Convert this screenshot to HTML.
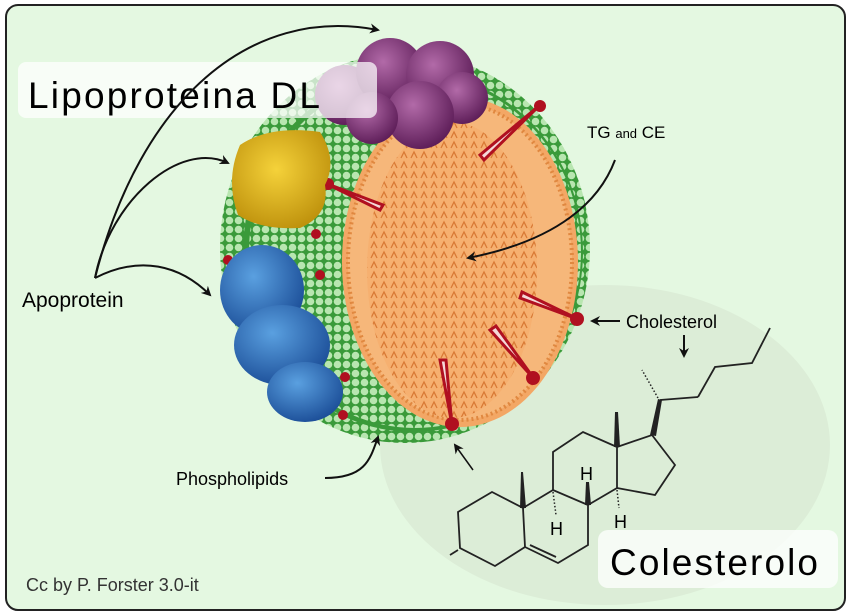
<!DOCTYPE html>
<html><head><meta charset="utf-8"><style>
html,body{margin:0;padding:0;background:#fff;}
svg{display:block;}
text{font-family:"Liberation Sans",sans-serif;}
</style></head><body>
<svg width="850" height="615" viewBox="0 0 850 615" xmlns="http://www.w3.org/2000/svg">
<defs>
<marker id="ah" markerWidth="10" markerHeight="10" refX="8" refY="5" orient="auto" markerUnits="userSpaceOnUse">
<path d="M0,0 L10,5 L0,10 L3,5 z" fill="#111"/></marker>
<radialGradient id="pur" cx="40%" cy="35%" r="70%"><stop offset="0" stop-color="#b26aa8"/><stop offset="1" stop-color="#5a1a55"/></radialGradient>
<radialGradient id="yel" cx="45%" cy="40%" r="70%"><stop offset="0" stop-color="#f5d23a"/><stop offset="1" stop-color="#b98b08"/></radialGradient>
<radialGradient id="blu" cx="40%" cy="35%" r="70%"><stop offset="0" stop-color="#5aa0e0"/><stop offset="1" stop-color="#1a4c96"/></radialGradient>
<pattern id="orp" width="10" height="10" patternUnits="userSpaceOnUse"><rect width="10" height="10" fill="#f6b070"/><path d="M1,8 L4,2 L7,8" stroke="#d97a35" stroke-width="1.3" fill="none"/></pattern>
<pattern id="grn" width="9" height="9" patternUnits="userSpaceOnUse"><rect width="9" height="9" fill="#3a9a3a"/><circle cx="4.5" cy="4.5" r="3.8" fill="#b8e6b0"/></pattern>
</defs>
<rect x="6" y="5" width="839" height="605" rx="12" fill="#e4f8e1" stroke="#222" stroke-width="2"/>
<ellipse cx="605" cy="445" rx="225" ry="160" fill="#dcedd7"/>
<!-- particle -->
<ellipse cx="405" cy="248" rx="185" ry="195" fill="url(#grn)"/>
<ellipse cx="413" cy="252" rx="170" ry="180" fill="#3a9a3a"/>
<ellipse cx="415" cy="252" rx="166" ry="176" fill="url(#grn)"/>
<ellipse cx="460" cy="262" rx="118" ry="165" fill="#f3a765"/>
<ellipse cx="460" cy="262" rx="112" ry="158" fill="#f6b77a" stroke="#e08840" stroke-width="4" stroke-dasharray="2 3"/>
<ellipse cx="452" cy="270" rx="85" ry="148" fill="url(#orp)"/>
<!-- cholesterol tears -->
<g fill="#f4d8d8" stroke="#b01020" stroke-width="3">
<path d="M540,105 L484,160 L480,155 z"/><path d="M580,320 L520,298 L522,292 z"/><path d="M535,380 L490,330 L496,326 z"/>
<path d="M452,425 L440,360 L446,360 z"/><path d="M325,183 L383,205 L380,210 z"/></g>
<g fill="#b01020"><circle cx="540" cy="106" r="6"/><circle cx="577" cy="319" r="7"/><circle cx="533" cy="378" r="7"/><circle cx="452" cy="424" r="7"/><circle cx="328" cy="184" r="6"/>
<circle cx="316" cy="234" r="5"/><circle cx="320" cy="275" r="5"/><circle cx="345" cy="377" r="5"/><circle cx="343" cy="415" r="5"/><circle cx="228" cy="260" r="5"/></g>
<!-- proteins -->
<g fill="url(#pur)"><circle cx="345" cy="95" r="30"/><circle cx="390" cy="72" r="34"/><circle cx="440" cy="75" r="34"/><circle cx="462" cy="98" r="26"/><circle cx="420" cy="115" r="34"/><circle cx="372" cy="118" r="26"/></g>
<path d="M240,145 Q270,125 320,132 Q338,160 325,185 Q330,215 300,228 Q260,230 238,215 Q225,180 240,145z" fill="url(#yel)"/>
<g fill="url(#blu)"><ellipse cx="262" cy="290" rx="42" ry="45"/><ellipse cx="282" cy="345" rx="48" ry="40"/><ellipse cx="305" cy="392" rx="38" ry="30"/></g>
<!-- title box -->
<rect x="18" y="62" width="359" height="56" rx="8" fill="#fff" fill-opacity="0.72"/>
<text x="28" y="108" font-size="37" fill="#000" textLength="292">Lipoproteina DL</text>
<!-- arrows -->
<g fill="none" stroke="#111" stroke-width="2">
<path d="M95,278 C140,100 250,5 378,30" marker-end="url(#ah)"/>
<path d="M95,278 C110,200 180,140 228,163" marker-end="url(#ah)"/>
<path d="M95,278 C140,255 180,265 210,295" marker-end="url(#ah)"/>
<path d="M615,160 C600,200 560,240 468,258" marker-end="url(#ah)"/>
<path d="M325,478 C365,478 370,460 378,437" marker-end="url(#ah)"/>
<path d="M473,470 L455,445" stroke-width="1.5" marker-end="url(#ah)"/>
<path d="M620,321 L592,321" marker-end="url(#ah)"/>
<path d="M684,335 L684,356" marker-end="url(#ah)"/>
</g>
<text x="22" y="307" font-size="21">Apoprotein</text>
<text x="587" y="138" font-size="17">TG <tspan font-size="13">and</tspan> CE</text>
<text x="626" y="328" font-size="18">Cholesterol</text>
<text x="176" y="485" font-size="18">Phospholipids</text>
<!-- molecule -->
<g fill="none" stroke="#222" stroke-width="1.8">
<path d="M458,512 L492,492 L523,508 L525,547 L495,566 L460,548 z"/>
<path d="M523,508 L553,490 L588,505 L588,545 L558,563 L525,547"/>
<path d="M530,545 L556,557"/>
<path d="M553,490 L553,452 L583,432 L617,447 L617,488 L588,505"/>
<path d="M617,447 L652,435 L675,465 L655,495 L617,488"/>
<path d="M698,397 L715,367 L752,363 L770,328"/>
<path d="M660,400 L698,397"/>
<path d="M458,550 L450,555"/>
</g>
<path d="M614,447 L620,447 L618,412 L615,412z" fill="#222"/>
<path d="M520,508 L526,508 L523,472 L521,472z" fill="#222"/>
<path d="M650,435 L656,436 L662,400 L658,399z" fill="#222"/>
<path d="M585,505 L591,505 L589,482 L586,482z" fill="#222"/>
<g stroke="#222" stroke-width="1.5"><path d="M658,398 L642,370" stroke-dasharray="1.5 2"/><path d="M553,492 L556,515" stroke-dasharray="1.5 2"/><path d="M617,490 L619,508" stroke-dasharray="1.5 2"/></g>
<text x="580" y="480" font-size="18">H</text>
<text x="550" y="535" font-size="18">H</text>
<text x="614" y="528" font-size="18">H</text>
<rect x="598" y="530" width="240" height="58" rx="10" fill="#fff" fill-opacity="0.75"/>
<text x="610" y="575" font-size="37" textLength="208">Colesterolo</text>
<text x="26" y="591" font-size="18" fill="#333">Cc by P. Forster 3.0-it</text>
</svg>
</body></html>
